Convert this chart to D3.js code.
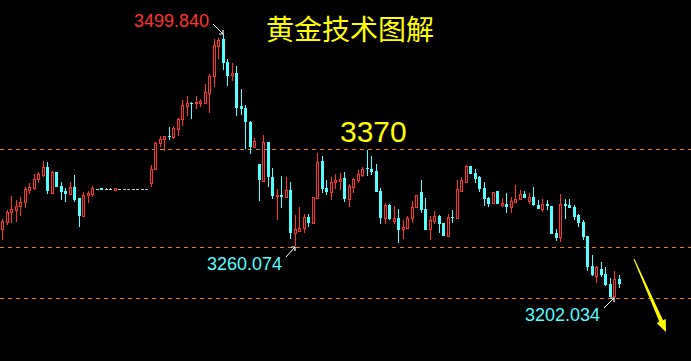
<!DOCTYPE html>
<html>
<head>
<meta charset="utf-8">
<script src="https://cdn.jsdelivr.net/npm/d3@7"></script>
<style>
  html, body { margin: 0; padding: 0; background: #000; }
  svg { display: block; }
</style>
</head>
<body>
<svg width="691" height="361"></svg>
<script>
// candle values, one per bar, left to right
var opens = [
  3280.0, 3287.9, 3299.2, 3301.5, 3305.3, 3310.5, 3324.0, 3326.3, 3335.7, 3340.9,
  3350.0, 3320.6, 3344.0, 3327.9, 3322.9, 3319.5, 3327.4, 3314.7, 3294.4, 3317.7,
  3319.2, 3325.1, 3325.9, 3324.8, 3324.8, 3324.0, 3325.1, 3325.1, 3325.1, 3325.1,
  3325.1, 3325.1, 3325.1, 3331.9, 3347.0, 3376.4, 3380.9, 3384.3, 3383.8, 3392.8,
  3403.4, 3418.4, 3422.2, 3421.5, 3422.2, 3422.2, 3433.4, 3452.3, 3486.5, 3493.7,
  3468.1, 3453.7, 3455.7, 3418.4, 3416.2, 3400.7, 3372.5, 3353.0, 3334.2, 3377.8,
  3338.3, 3316.9, 3318.0, 3316.1, 3323.7, 3274.8, 3277.8, 3280.5, 3292.9, 3286.1,
  3314.3, 3356.1, 3325.6, 3322.0, 3332.4, 3334.2, 3336.9, 3313.9, 3327.4, 3335.0,
  3341.2, 3348.3, 3347.0, 3345.1, 3322.6, 3292.1, 3306.8, 3289.1, 3292.1, 3279.6,
  3281.4, 3291.8, 3304.5, 3321.2, 3302.2, 3280.0, 3289.3, 3294.4, 3286.1, 3272.1,
  3293.3, 3291.8, 3322.9, 3333.0, 3350.8, 3343.2, 3338.0, 3325.9, 3315.0, 3308.7,
  3322.6, 3307.1, 3307.9, 3304.8, 3310.5, 3313.2, 3319.2, 3311.6, 3315.8, 3306.8,
  3302.8, 3307.9, 3305.6, 3275.2, 3271.0, 3307.9, 3306.8, 3304.8, 3295.5, 3287.9,
  3271.8, 3238.0, 3227.0, 3234.9, 3228.9, 3217.6, 3204.1, 3223.3
];
var highs = [
  3291.0, 3301.1, 3316.9, 3312.4, 3315.4, 3327.4, 3331.2, 3341.4, 3344.3, 3356.4,
  3355.6, 3345.1, 3344.0, 3332.7, 3326.3, 3332.7, 3340.6, 3314.7, 3321.8, 3322.6,
  3328.2, 3325.1, 3325.9, 3326.3, 3326.3, 3325.9, 3325.1, 3325.1, 3325.1, 3325.1,
  3325.1, 3325.1, 3325.1, 3351.9, 3377.5, 3384.6, 3384.2, 3394.4, 3395.5, 3405.2,
  3425.2, 3429.7, 3422.9, 3429.7, 3426.3, 3443.2, 3454.5, 3493.7, 3494.8, 3499.8,
  3471.1, 3466.6, 3463.6, 3437.6, 3419.6, 3401.5, 3382.0, 3353.0, 3385.7, 3377.8,
  3348.5, 3324.5, 3339.5, 3338.0, 3332.4, 3295.5, 3304.2, 3296.6, 3296.6, 3315.4,
  3365.1, 3362.0, 3335.0, 3338.0, 3341.7, 3342.5, 3344.0, 3330.4, 3336.9, 3346.2,
  3350.0, 3368.8, 3362.0, 3353.0, 3326.5, 3309.0, 3307.5, 3305.6, 3302.2, 3289.8,
  3294.4, 3311.3, 3318.0, 3335.0, 3314.3, 3294.4, 3300.0, 3295.5, 3286.1, 3296.6,
  3301.1, 3335.0, 3338.9, 3352.2, 3350.8, 3347.0, 3339.1, 3332.7, 3316.1, 3321.8,
  3323.0, 3314.7, 3320.0, 3316.1, 3329.3, 3323.3, 3322.6, 3320.6, 3326.7, 3312.4,
  3313.3, 3312.7, 3305.6, 3279.9, 3318.9, 3313.2, 3313.2, 3306.8, 3296.9, 3290.2,
  3271.8, 3250.4, 3238.0, 3242.5, 3236.5, 3224.8, 3232.6, 3227.8
];
var lows = [
  3267.3, 3284.2, 3286.8, 3287.6, 3294.4, 3303.7, 3319.2, 3323.7, 3331.9, 3338.0,
  3319.2, 3319.2, 3327.4, 3312.4, 3310.1, 3318.0, 3310.1, 3282.3, 3294.4, 3308.7,
  3315.4, 3325.1, 3324.0, 3324.8, 3324.8, 3324.0, 3325.1, 3325.1, 3325.1, 3325.1,
  3325.1, 3325.1, 3325.1, 3327.4, 3346.2, 3371.8, 3368.0, 3380.1, 3381.2, 3384.6,
  3396.2, 3407.2, 3403.8, 3415.0, 3417.6, 3422.2, 3410.9, 3440.2, 3471.8, 3459.0,
  3441.0, 3447.0, 3407.2, 3408.3, 3369.6, 3364.3, 3371.8, 3311.6, 3334.2, 3327.4,
  3313.9, 3289.8, 3303.7, 3314.3, 3268.4, 3260.1, 3276.6, 3275.5, 3282.3, 3286.1,
  3313.2, 3320.0, 3318.0, 3312.4, 3324.5, 3323.7, 3310.5, 3304.8, 3320.6, 3331.9,
  3338.0, 3339.5, 3340.6, 3321.8, 3285.0, 3285.3, 3290.0, 3285.3, 3263.6, 3268.1,
  3280.5, 3287.0, 3304.5, 3297.4, 3278.9, 3266.9, 3285.9, 3275.5, 3271.8, 3271.8,
  3286.1, 3291.8, 3321.8, 3331.9, 3342.1, 3331.2, 3321.4, 3305.6, 3304.2, 3308.7,
  3307.5, 3304.2, 3298.1, 3298.1, 3310.5, 3312.4, 3314.3, 3307.9, 3305.6, 3302.6,
  3299.2, 3301.1, 3274.4, 3266.5, 3265.4, 3291.0, 3303.0, 3290.2, 3281.9, 3267.3,
  3232.6, 3227.0, 3219.1, 3225.9, 3215.4, 3202.6, 3202.0, 3212.8
];
var closes = [
  3289.1, 3299.2, 3302.2, 3306.0, 3310.1, 3324.5, 3327.1, 3336.1, 3341.7, 3349.3,
  3322.6, 3344.0, 3327.4, 3321.4, 3319.2, 3327.1, 3312.4, 3294.4, 3317.7, 3320.6,
  3325.6, 3325.1, 3324.0, 3324.8, 3324.8, 3325.9, 3325.1, 3325.1, 3325.1, 3325.1,
  3325.1, 3325.1, 3325.1, 3347.0, 3376.4, 3380.9, 3384.2, 3383.8, 3393.3, 3403.8,
  3419.2, 3421.5, 3421.0, 3422.9, 3424.1, 3433.9, 3452.3, 3487.2, 3492.9, 3467.3,
  3452.3, 3456.0, 3416.5, 3415.0, 3400.4, 3371.8, 3378.6, 3335.0, 3377.5, 3338.0,
  3316.9, 3318.0, 3316.1, 3323.7, 3275.5, 3279.3, 3280.5, 3292.9, 3286.8, 3315.4,
  3355.6, 3325.1, 3321.8, 3332.4, 3335.0, 3335.7, 3313.2, 3328.2, 3335.7, 3341.7,
  3347.0, 3347.9, 3344.0, 3321.8, 3292.1, 3306.5, 3291.0, 3292.1, 3278.9, 3282.3,
  3292.4, 3304.5, 3318.0, 3301.1, 3278.9, 3289.8, 3294.4, 3285.3, 3271.8, 3292.9,
  3292.9, 3324.5, 3335.0, 3350.8, 3342.1, 3336.1, 3325.1, 3313.2, 3307.9, 3321.1,
  3307.5, 3309.4, 3304.8, 3311.3, 3313.2, 3318.8, 3315.0, 3315.8, 3306.4, 3302.6,
  3307.7, 3306.0, 3274.4, 3269.8, 3307.7, 3306.0, 3303.7, 3293.6, 3286.8, 3271.0,
  3237.2, 3227.8, 3236.5, 3227.8, 3216.5, 3203.3, 3223.3, 3217.6
];

// horizontal levels (dashed)
var levels = [3370, 3260.074, 3202.034];

// price labels: text, bar index, price, side of the bar
var markLabels = ["3499.840", "3260.074", "3202.034"];
var markIndex = [49, 65, 136];
var markPrice = [3499.84, 3260.074, 3202.034];
var markColor = ["#ff3232", "#54ffff", "#54ffff"];

var title = "黄金技术图解";
var levelText = "3370";

var svg = d3.select("svg"),
    width = +svg.attr("width"),
    height = +svg.attr("height");

var red = "#ff3232", cyan = "#54ffff", gray = "#c8c8c8";

svg.append("rect").attr("width", width).attr("height", height).attr("fill", "#000");

var x = d3.scaleLinear().domain([0, opens.length - 1]).range([2.3, 618.8]);
var y = d3.scaleLinear().domain([3131, 3538]).range([height, 0]);

var candles = opens.map(function(o, i) {
  return {i: i, o: o, h: highs[i], l: lows[i], c: closes[i]};
});

// dashed levels
svg.append("g")
  .selectAll("line")
  .data(levels)
  .enter().append("line")
    .attr("x1", 0)
    .attr("x2", width)
    .attr("y1", function(d) { return Math.round(y(d)) + 0.5; })
    .attr("y2", function(d) { return Math.round(y(d)) + 0.5; })
    .attr("stroke", "#e0801c")
    .attr("stroke-width", 1)
    .attr("stroke-dasharray", "4,4");

var g = svg.append("g").attr("shape-rendering", "crispEdges");

function colorOf(d) {
  if (d.c > d.o) return red;
  if (d.c < d.o) return cyan;
  return gray;
}

var bar = g.selectAll("g")
  .data(candles)
  .enter().append("g");

bar.each(function(d) {
  var sel = d3.select(this);
  var cx = Math.round(x(d.i));
  var col = colorOf(d);
  var yh = Math.round(y(d.h)), yl = Math.round(y(d.l));
  var top = Math.round(y(Math.max(d.o, d.c))), bot = Math.round(y(Math.min(d.o, d.c)));

  if (d.c > d.o) {
    // hollow red body, wick only outside the body
    if (yh < top) sel.append("line").attr("x1", cx + 0.5).attr("x2", cx + 0.5)
      .attr("y1", yh).attr("y2", top).attr("stroke", col);
    if (yl > bot) sel.append("line").attr("x1", cx + 0.5).attr("x2", cx + 0.5)
      .attr("y1", bot).attr("y2", yl).attr("stroke", col);
    sel.append("rect")
      .attr("x", cx - 0.5).attr("y", top + 0.5)
      .attr("width", 2).attr("height", Math.max(bot - top, 1))
      .attr("fill", "#000").attr("stroke", col);
  } else {
    if (yl > yh) sel.append("line").attr("x1", cx + 0.5).attr("x2", cx + 0.5)
      .attr("y1", yh).attr("y2", yl).attr("stroke", col);
    sel.append("rect")
      .attr("x", cx - 1).attr("y", top)
      .attr("width", 3).attr("height", Math.max(bot - top, 1))
      .attr("fill", col);
  }
});

// title
svg.append("text")
  .attr("x", 266).attr("y", 40)
  .attr("fill", "#ffff00")
  .attr("font-family", "'Noto Sans CJK SC', sans-serif")
  .attr("font-size", 28)
  .text(title);

// 3370 label
svg.append("text")
  .attr("x", 340).attr("y", y(levels[0]) - 7)
  .attr("fill", "#ffff00")
  .attr("font-family", "'Liberation Sans', Arial, sans-serif")
  .attr("font-size", 30)
  .text(levelText);

// price labels with small white arrows
var offs = [[-10, -10], [-9, 10], [-10, 10]];
markLabels.forEach(function(t, k) {
  var hx = Math.round(x(markIndex[k])), hy = Math.round(y(markPrice[k]));
  var tx = hx + offs[k][0], ty = hy + offs[k][1];
  var sx = Math.sign(offs[k][0]), sy = Math.sign(offs[k][1]);
  svg.append("line")
    .attr("x1", tx).attr("y1", ty).attr("x2", hx).attr("y2", hy)
    .attr("stroke", "#fff").attr("stroke-width", 1);
  svg.append("path")
    .attr("d", "M" + (hx + sx * 4) + "," + hy + "H" + hx + "V" + (hy + sy * 4))
    .attr("fill", "none").attr("stroke", "#fff").attr("stroke-width", 1.2);
  svg.append("text")
    .attr("x", tx - 4)
    .attr("y", k === 0 ? ty + 3 : ty + 3 + 10)
    .attr("text-anchor", "end")
    .attr("fill", markColor[k])
    .attr("font-family", "'Liberation Sans', Arial, sans-serif")
    .attr("font-size", 18)
    .text(t);
});

// yellow trend arrow at the right
var ax0 = 634, ay0 = 259, ax1 = 666, ay1 = 332;
var ang = Math.atan2(ay1 - ay0, ax1 - ax0);
var nx = -Math.sin(ang), ny = Math.cos(ang);
var len = Math.hypot(ax1 - ax0, ay1 - ay0);
var bx = ax1 - Math.cos(ang) * 12, by = ay1 - Math.sin(ang) * 12;
var arrow = [
  [ax0 + nx * 0.5, ay0 + ny * 0.5],
  [bx + nx * 2, by + ny * 2],
  [bx + nx * 5, by + ny * 5],
  [ax1, ay1],
  [bx - nx * 5, by - ny * 5],
  [bx - nx * 2, by - ny * 2],
  [ax0 - nx * 0.5, ay0 - ny * 0.5]
];
svg.append("path")
  .attr("d", d3.line()(arrow) + "Z")
  .attr("fill", "#ffff00");
</script>
</body>
</html>
